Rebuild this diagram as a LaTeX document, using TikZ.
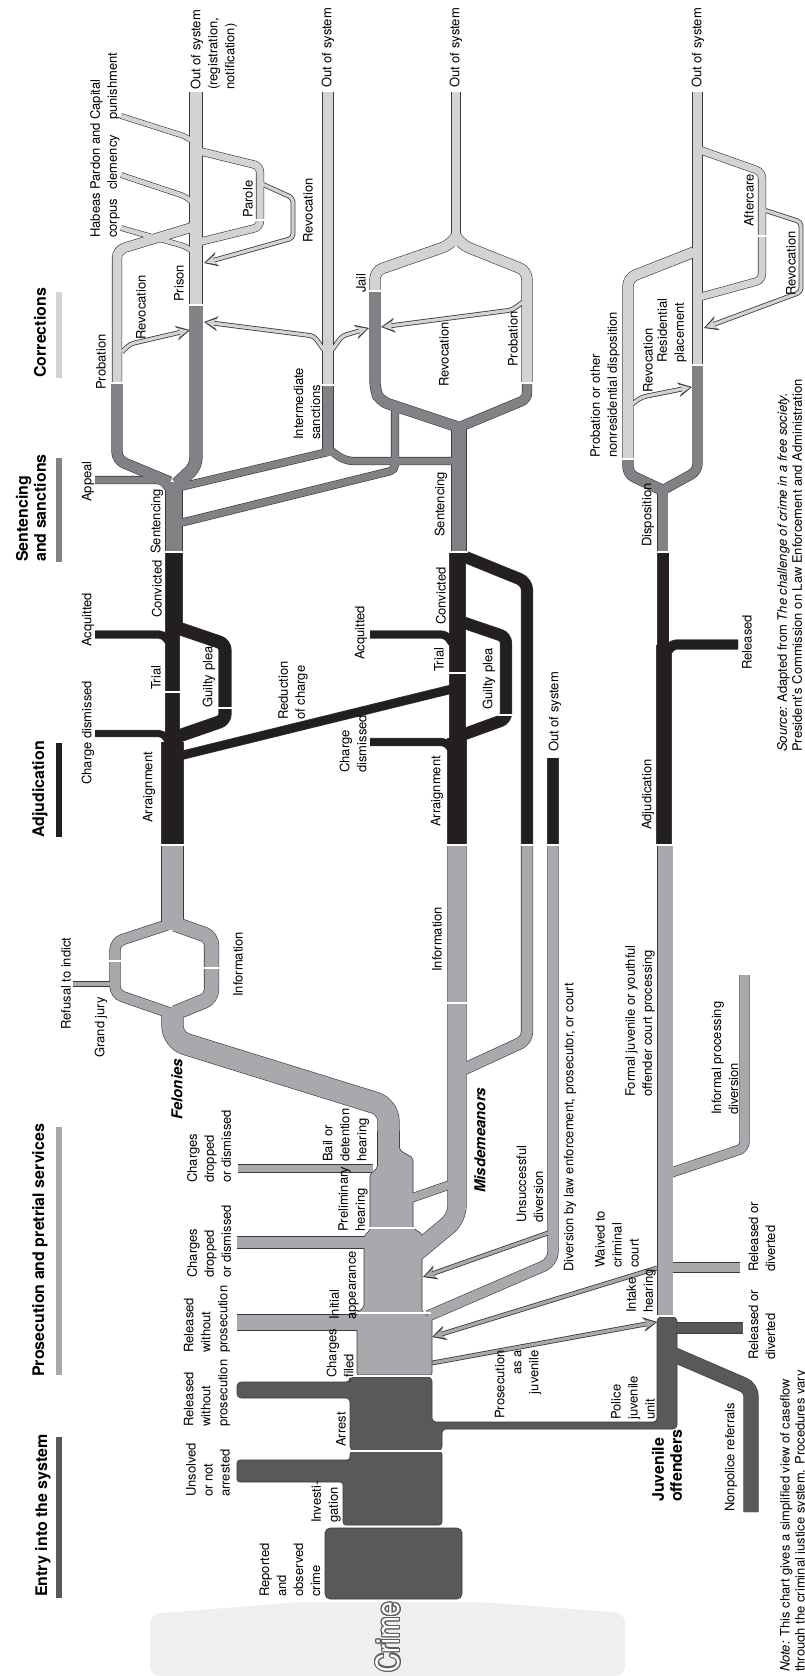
\documentclass[tikz,border=0pt]{standalone}
\usepackage{fontspec}
\setmainfont{TeX Gyre Heros}
\newfontfamily\crimefont[FakeStretch=0.82]{TeX Gyre Heros}
\usetikzlibrary{arrows.meta}
\definecolor{entryc}{HTML}{58595B}
\definecolor{prosc}{HTML}{A7A9AC}
\definecolor{adjc}{HTML}{231F20}
\definecolor{sentc}{HTML}{808285}
\definecolor{corrc}{HTML}{D1D3D4}
\definecolor{edgec}{HTML}{3A3A3C}
\definecolor{crimebg}{HTML}{EFEFEF}
\definecolor{crimeln}{HTML}{5C5D5F}
\pgfdeclarelayer{bgl}
\pgfdeclarelayer{outl}
\pgfsetlayers{bgl,outl,main}
\newcommand\lblfont{\fontsize{13}{17}\selectfont}
\newcommand\ttlfont{\fontsize{16}{18}\selectfont\bfseries}
\newcommand\grpfont{\fontsize{15}{17}\selectfont\bfseries\itshape}
% a flow band: dark rim on the lower layer, coloured body on top
\newcommand\band[4][6]{%
  \pgfmathsetmacro\bandouter{#3+1.2}%
  \begin{pgfonlayer}{outl}\draw[edgec,line width=\bandouter pt,rounded corners=#1pt] #4;\end{pgfonlayer}%
  \draw[#2,line width=#3pt,rounded corners=#1pt] #4;}
% an outlined arrow with a hollow-looking head
\newcommand\arrowband[2]{%
  \draw[edgec,line width=4.8pt,rounded corners=4pt,-{Stealth[length=14pt,width=15pt,inset=5pt,line width=0pt]}] #2;
  \draw[#1,line width=3.2pt,rounded corners=4pt,shorten >=2pt,-{Stealth[length=10.8pt,width=10.5pt,inset=3.8pt,line width=0pt]}] #2;}
% white stage separator across a band
\newcommand\sepl[3]{\draw[white,line width=1.6pt] (#1,#3) -- (#2,#3);}

\begin{document}
\begin{tikzpicture}[x=1pt,y=-1pt,
  lbl/.style={rotate=90,anchor=west,inner sep=0pt,align=left,font=\lblfont},
  ttl/.style={lbl,font=\ttlfont},
  grp/.style={lbl,font=\grpfont},
  crimetxt/.style={rotate=90,inner sep=0pt,font=\crimefont\fontsize{32}{32}\selectfont},
]
\useasboundingbox (0,0) rectangle (804,1676);

% ---------- crime backdrop
\begin{pgfonlayer}{bgl}
  \fill[crimebg,rounded corners=10pt] (150,1676) -- (150,1614) -- (300,1602) -- (480,1602) -- (625,1613) -- (625,1676) -- cycle;
\end{pgfonlayer}
\foreach \a in {0,22.5,...,337.5}
  \node[crimetxt,text=crimeln] at ([shift={(\a:1.1pt)}]388,1637) {Crime};
\node[crimetxt,text=white] (crime) at (388,1637) {Crime};

% ---------- stage titles and bars
\node[ttl] (t1) at (43,1597) {Entry into the system};
\fill[entryc] (55.5,1437) rectangle (62,1598);
\node[ttl] (t2) at (40,1377) {Prosecution and pretrial services};
\fill[prosc] (55.5,1127) rectangle (62,1375);
\node[ttl] (t3) at (40,838) {Adjudication};
\fill[adjc] (55.5,743) rectangle (62,837);
\node[ttl] (t4) at (31,562) {Sentencing\\and sanctions};
\fill[sentc] (55.5,458) rectangle (62,562);
\node[ttl] (t5) at (40,378) {Corrections};
\fill[corrc] (55.5,292) rectangle (62,378);

% ---------- arrows (drawn first so bands cover their roots)
\arrowband{corrc}{(122,352) -- (130,344) -- (190,330)}
\arrowband{corrc}{(324,350) -- (314,336) -- (204,322)}
\arrowband{corrc}{(332,350) -- (342,336) -- (369,328)}
\arrowband{corrc}{(523,302) -- (512,310) -- (381,327)}
\arrowband{corrc}{(262,184) -- (293,198) -- (293,238) -- (204,263)}
\arrowband{corrc}{(632,404) -- (642,397) -- (692,387)}
\arrowband{corrc}{(764,210) -- (801,222) -- (801,292) -- (704,328)}
\arrowband{prosc}{(657,1268) -- (432,1337)}
\arrowband{prosc}{(432,1363) -- (657,1322)}
\arrowband{prosc}{(548,1233) -- (423,1277)}

% ---------- entry into the system
\path[fill=entryc,draw=edgec,line width=0.6pt,rounded corners=5pt] (325,1528) rectangle (462,1599);
\path[fill=entryc,draw=edgec,line width=0.6pt,rounded corners=3pt]
  (343,1525) -- (343,1482) -- (237,1482) -- (237,1460) -- (350,1460) -- (350,1451.5) -- (442,1451.5) -- (442,1525) -- cycle;
\path[fill=entryc,draw=edgec,line width=0.6pt,rounded corners=4pt]
  (350,1450.5) -- (350,1398) -- (237,1398) -- (237,1382) -- (350,1382) -- (350,1377) -- (432,1377) -- (432,1422)
  -- (657,1422) -- (657,1317) -- (677,1317) -- (677,1429) -- (442,1429) -- (442,1450.5) -- cycle;
\band[1]{entryc}{10}{(677,1328) -- (743,1328)}
\band[8]{entryc}{14}{(670,1353) -- (751,1388) -- (751,1512)}

% ---------- prosecution and pretrial services
\path[fill=prosc,draw=edgec,line width=0.6pt,rounded corners=2pt]
  (377.5,1130) -- (399.5,1130) -- (399.5,1150) -- (413,1158) -- (413,1228) -- (422,1234) -- (422,1312)
  -- (432,1318) -- (432,1375) -- (357,1375) -- (357,1313) -- (364,1307) -- (364,1236) -- (370,1230)
  -- (370,1174) -- (377.5,1168) -- cycle;
\band[1]{prosc}{7}{(238,1168.5) -- (373,1168.5)}
\band[1]{prosc}{11}{(237,1242.5) -- (366,1242.5)}
\band[1]{prosc}{15}{(237,1322.5) -- (359,1322.5)}
\band[14]{prosc}{21}{(172.5,845) -- (172.5,930)}
\band[8]{prosc}{10}{(170,924) -- (115,942) -- (115,994) -- (170,1013)}
\band[8]{prosc}{14}{(175,924) -- (211.5,937) -- (211.5,998) -- (175,1013)}
\band[1]{prosc}{4}{(73,984) -- (111,984)}
\band[14]{prosc}{21}{(172.5,1008) -- (172.5,1040) -- (388.5,1107) -- (388.5,1150)}
\band[12]{prosc}{18}{(457,845) -- (457,1218) -- (416,1252)}
\band[4]{prosc}{8}{(406,1200) -- (452,1184)}
\band[8]{prosc}{11}{(527,845) -- (527,1040) -- (462,1070)}
\band[10]{prosc}{10}{(553,845) -- (553,1262) -- (428,1316)}
\band[1]{prosc}{15}{(665,845) -- (665,1315)}
\band[6]{prosc}{9}{(667,1174) -- (744.5,1148) -- (744.5,975)}
\band[1]{prosc}{9}{(670,1267.5) -- (740,1267.5)}

% ---------- adjudication
\band[1]{adjc}{21}{(172.5,845) -- (172.5,742)}
\band[1]{adjc}{13}{(172.5,748) -- (172.5,625)}
\band[1]{adjc}{16}{(174,632) -- (174,552)}
\band[5]{adjc}{6}{(95,733.5) -- (164,733.5) -- (168,742)}
\band[5]{adjc}{7}{(95,634.5) -- (164,634.5) -- (170,644)}
\band[6]{adjc}{12}{(176,737) -- (225,720) -- (225,644) -- (178,628)}
\band[1]{adjc}{8}{(179,756) -- (452,689)}
\band[1]{adjc}{18}{(457,845) -- (457,738)}
\band[1]{adjc}{15}{(457.5,744) -- (457.5,552)}
\band[5]{adjc}{7}{(370,742) -- (446,742) -- (452,750)}
\band[5]{adjc}{7}{(370,634.5) -- (446,634.5) -- (452,643)}
\band[6]{adjc}{11}{(462,735) -- (506,719) -- (506,637) -- (462,622)}
\band[8]{adjc}{11}{(527,845) -- (527,582) -- (463,556)}
\band[1]{adjc}{10}{(553,758) -- (553,845)}
\band[1]{adjc}{14}{(664,845) -- (664,645)}
\band[1]{adjc}{11}{(663,652) -- (663,552)}
\band[5]{adjc}{9}{(664,656) -- (672,644.5) -- (738,644.5)}

% ---------- sentencing and sanctions
\band[1]{sentc}{16}{(174,552) -- (174,482)}
\band[5]{sentc}{7}{(95,480) -- (162,480) -- (170,490)}
\band[8]{sentc}{10}{(170,482) -- (117,460) -- (117,383)}
\band[8]{sentc}{12}{(177,484) -- (196,466) -- (196,305)}
\band[6]{sentc}{7}{(180,487) -- (328,452)}
\band[1]{sentc}{10}{(328,456) -- (328,385)}
\band[5]{sentc}{7}{(180,523) -- (395,470) -- (395,402)}
\band[1]{sentc}{14}{(459,552) -- (459,422)}
\band[8]{sentc}{7}{(459,461) -- (345,461) -- (330,450)}
\band[8]{sentc}{10}{(458,427) -- (380,401) -- (375,390) -- (375,291)}
\band[6]{sentc}{9}{(462,426) -- (527,399) -- (527,383)}
\band[1]{sentc}{10}{(662.5,552) -- (662.5,486)}
\band[7]{sentc}{10}{(662,490) -- (628,474) -- (628,459)}
\band[7]{sentc}{9}{(663,490) -- (697.5,471) -- (697.5,365)}

% ---------- corrections
\band[3]{corrc}{4.5}{(121,228) -- (184,246) -- (191,250)}
\band[3]{corrc}{4.5}{(121,175) -- (184,196) -- (191,201)}
\band[3]{corrc}{4.5}{(121,116) -- (184,136) -- (191,140)}
\band[8]{corrc}{9}{(117,383) -- (117,250) -- (193,227)}
\band[1]{corrc}{12}{(196,305) -- (196,92)}
\band[6]{corrc}{7}{(199,242) -- (260,227) -- (260,166) -- (199,151)}
\band[1]{corrc}{10}{(328,385) -- (328,92)}
\band[8]{corrc}{10}{(375,291) -- (375,271) -- (450,245) -- (456,236)}
\band[8]{corrc}{10}{(527,383) -- (527,271) -- (462,245) -- (456,236)}
\band[1]{corrc}{8}{(456,246) -- (456,92)}
\band[8]{corrc}{10}{(628,459) -- (628,278) -- (694,252)}
\band[1]{corrc}{9}{(697.5,365) -- (697.5,92)}
\band[6]{corrc}{7}{(700,297) -- (762,280) -- (762,172) -- (700,150)}

% ---------- stage separators
\sepl{160}{185}{845} \sepl{164}{181}{692} \sepl{216}{234}{708} \sepl{164}{184}{552}
\sepl{110}{124}{383} \sepl{188}{204}{305} \sepl{321}{335}{385} \sepl{108}{122}{961}
\sepl{202}{221}{968} \sepl{255}{265}{220}
\sepl{446}{468}{845} \sepl{446}{468}{1003} \sepl{448}{467}{673} \sepl{498}{514}{715}
\sepl{448}{468}{552} \sepl{520}{534}{383} \sepl{368}{382}{291} \sepl{520}{534}{845}
\sepl{546}{560}{845}
\sepl{655}{674}{845} \sepl{655}{671}{552} \sepl{654}{680}{1316} \sepl{621}{635}{459}
\sepl{691}{704}{365} \sepl{756}{768}{236}
\sepl{368}{415}{1228} \sepl{355}{431}{1313} \sepl{348}{434}{1376}
\sepl{348}{444}{1451}

% ---------- labels: corrections
\node[lbl] (n01) at (214,90) {Out of system\\(registration,\\notification)};
\node[lbl] (n02) at (328,88) {Out of system};
\node[lbl] (n03) at (456,88) {Out of system};
\node[lbl] (n04) at (698,88) {Out of system};
\node[lbl] (n05) at (105,238) {Habeas\\corpus};
\node[lbl] (n06) at (105,190) {Pardon and\\clemency};
\node[lbl] (n07) at (105,120) {Capital\\punishment};
\node[lbl] (n08) at (248,218) {Parole};
\node[lbl] (n09) at (308,243) {Revocation};
\node[lbl] (n10) at (179,302) {Prison};
\node[lbl] (n11) at (141,340) {Revocation};
\node[lbl] (n12) at (101,390) {Probation};
\node[lbl] (n13) at (307,440) {Intermediate\\sanctions};
\node[lbl] (n14) at (361,293) {Jail};
\node[lbl] (n15) at (444,387) {Revocation};
\node[lbl] (n16) at (513,367) {Probation};
% sentencing and adjudication
\node[lbl] (n17) at (88,502) {Appeal};
\node[lbl] (n18) at (157,554) {Sentencing};
\node[lbl] (n19) at (157,618) {Convicted};
\node[lbl] (n20) at (156,690) {Trial};
\node[lbl] (n21) at (88,647) {Acquitted};
\node[lbl] (n22) at (209,708) {Guilty plea};
\node[lbl] (n23) at (293,720) {Reduction\\of charge};
\node[lbl] (n24) at (88,785) {Charge dismissed};
\node[lbl] (n25) at (149,823) {Arraignment};
\node[lbl] (n26) at (441,537) {Sentencing};
\node[lbl] (n27) at (441,625) {Convicted};
\node[lbl] (n28) at (439,672) {Trial};
\node[lbl] (n29) at (361,660) {Acquitted};
\node[lbl] (n30) at (489,710) {Guilty plea};
\node[lbl] (n31) at (353,773) {Charge\\dismissed};
\node[lbl] (n32) at (437,827) {Arraignment};
\node[lbl] (n33) at (555,752) {Out of system};
\node[lbl] (n34) at (238,997) {Information};
\node[lbl] (n35) at (66,1030) {Refusal to indict};
\node[lbl] (n36) at (101,1058) {Grand jury};
\node[lbl] (n37) at (437,972) {Information};
% juvenile
\node[lbl] (n38) at (648,547) {Disposition};
\node[lbl] (n39) at (605,458) {Probation or other\\nonresidential disposition};
\node[lbl] (n40) at (648,393) {Revocation};
\node[lbl] (n41) at (672,363) {Residential\\placement};
\node[lbl] (n42) at (749,227) {Aftercare};
\node[lbl] (n43) at (791,296) {Revocation};
\node[lbl] (n44) at (648,830) {Adjudication};
\node[lbl] (n45) at (747,670) {Released};
\node[lbl] (n46) at (640,1097) {Formal juvenile or youthful\\offender court processing};
\node[lbl] (n47) at (725,1115) {Informal processing\\diversion};
\node[lbl] (n48) at (641,1313) {Intake\\hearing};
\node[lbl] (n49) at (762,1272) {Released or\\diverted};
\node[lbl] (n50) at (762,1360) {Released or\\diverted};
\node[lbl] (n51) at (633,1420) {Police\\juvenile\\unit};
\node[lbl] (n52) at (731,1512) {Nonpolice referrals};
\node[ttl] (n53) at (667,1502) {Juvenile\\offenders};
% prosecution
\node[lbl] (n54) at (346,1162) {Bail or\\detention\\hearing};
\node[lbl] (n55) at (209,1183) {Charges\\dropped\\or dismissed};
\node[lbl] (n56) at (353,1232) {Preliminary\\hearing};
\node[lbl] (n57) at (209,1278) {Charges\\dropped\\or dismissed};
\node[lbl] (n58) at (344,1320) {Initial\\appearance};
\node[lbl] (n59) at (207,1353) {Released\\without\\prosecution};
\node[lbl] (n60) at (340,1378) {Charges\\filed};
\node[lbl] (n61) at (530,1223) {Unsuccessful\\diversion};
\node[lbl] (n62) at (570,1272) {Diversion by law enforcement, prosecutor, or court};
\node[lbl] (n63) at (617,1268) {Waived to\\criminal\\court};
\node[lbl,anchor=east,align=right] (n64) at (518,1350) {Prosecution\\as a\\juvenile};
\node[grp] (n65) at (177,1120) {Felonies};
\node[grp] (n66) at (480,1193) {Misdemeanors};
% entry
\node[lbl] (n67) at (290,1597) {Reported\\and\\observed\\crime};
\node[lbl] (n68) at (326,1523) {Investi-\\gation};
\node[lbl] (n69) at (208,1497) {Unsolved\\or not\\arrested};
\node[lbl] (n70) at (341,1447) {Arrest};
\node[lbl] (n71) at (207,1427) {Released\\without\\prosecution};

% ---------- notes
\node[lbl,anchor=north west,font=\fontsize{13}{15}\selectfont] (src) at (777,752)
  {\textit{Source:} Adapted from \textit{The challenge of crime in a free society.}\\President's Commission on Law Enforcement and Administration};
\node[lbl,anchor=north west,font=\fontsize{13}{15}\selectfont] (note) at (780,1672)
  {\textit{Note:} This chart gives a simplified view of caseflow\\through the criminal justice system. Procedures vary};
\end{tikzpicture}
\end{document}
